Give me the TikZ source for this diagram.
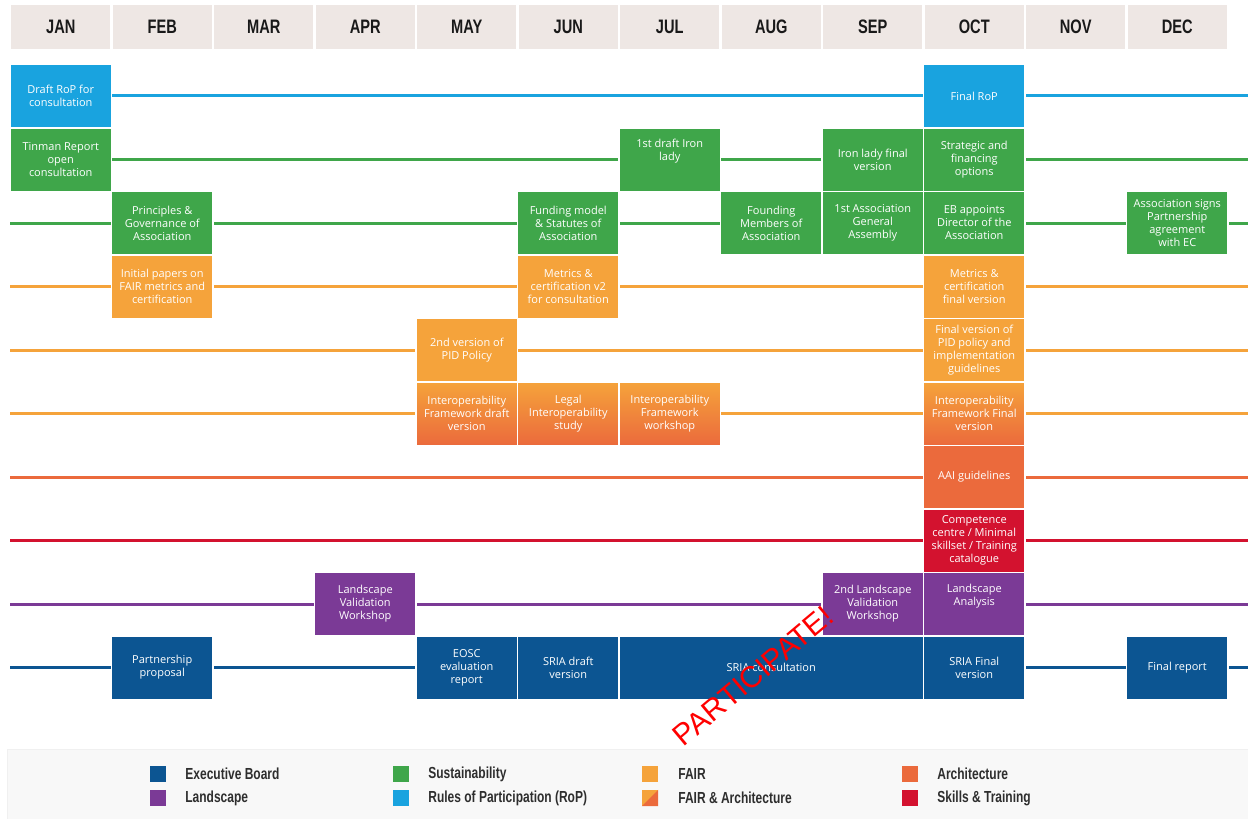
\documentclass[tikz,border=0pt]{standalone}
\usepackage{fontspec}
\setmainfont{Open Sans}
\newfontfamily\headfont{Liberation Sans}[FakeStretch=0.75]
\newfontfamily\markfont{Liberation Sans}
\usepackage{tikz}
\usetikzlibrary{positioning}
\definecolor{RoPBlue}{HTML}{19A3DF}
\definecolor{SustGreen}{HTML}{3FA64A}
\definecolor{FairOrange}{HTML}{F5A33B}
\definecolor{ArchOrange}{HTML}{EB6A3C}
\definecolor{SkillRed}{HTML}{D3122F}
\definecolor{LandPurple}{HTML}{7B3A96}
\definecolor{EBBlue}{HTML}{0C5592}
\definecolor{HeadGrey}{HTML}{EEE7E4}
\definecolor{LegendGrey}{HTML}{F8F8F8}
\definecolor{InkGrey}{HTML}{2E2E2E}
\tikzset{
  task/.style={draw=white, line width=1.5pt, minimum width=101.5pt, minimum height=63.5pt,
    inner sep=1pt, align=center, text=white, font=\fontsize{11}{13}\selectfont},
  rowline/.style={line width=3pt},
  month/.style={fill=HeadGrey, minimum width=99pt, minimum height=44pt, inner sep=0pt,
    text=black!90, font=\headfont\bfseries\fontsize{19.5}{20}\selectfont},
  keybox/.style={minimum width=16pt, minimum height=16pt, inner sep=0pt},
  keytext/.style={text=InkGrey, inner sep=0pt, font=\headfont\bfseries\fontsize{16}{17}\selectfont}
}

\begin{document}
\begin{tikzpicture}[x=1pt, y=-1pt]
\useasboundingbox (0,0) rectangle (1248,819);

% month header
\foreach \m [count=\i from 0] in {JAN,FEB,MAR,APR,MAY,JUN,JUL,AUG,SEP,OCT,NOV,DEC}
  \node[month] (h\m) at ({60.75+101.5*\i},27) {\m};

% work-stream lines
\foreach \y/\col [count=\r] in {95/RoPBlue,159.5/SustGreen,223/SustGreen,286.5/FairOrange,350/FairOrange,
    413.5/FairOrange,477/ArchOrange,540.5/SkillRed,604/LandPurple,667.5/EBBlue}{
  \coordinate (lw\r) at (10,\y);
  \coordinate (le\r) at (1248,\y);
  \draw[rowline, draw=\col] (lw\r) -- (le\r);
}

% rules of participation
\node[task, fill=RoPBlue] (ropdraft) at (60.75,96) {Draft RoP for\\consultation};
\node[task, fill=RoPBlue] (ropfinal) at (974.25,96) {Final RoP};

% sustainability
\node[task, fill=SustGreen] (tinman) at (60.75,159.5) {Tinman Report\\open\\consultation};
\node[task, fill=SustGreen] (irondraft) at (669.75,159.5) {1st draft Iron\\lady\\[6pt]};
\node[task, fill=SustGreen] (ironfinal) at (872.75,159.5) {Iron lady final\\version};
\node[task, fill=SustGreen] (strategic) at (974.25,159.5) {Strategic and\\financing\\options};
\node[task, fill=SustGreen] (principles) at (162.25,223) {Principles \&\\Governance of\\Association};
\node[task, fill=SustGreen] (funding) at (568.25,223) {Funding model\\\& Statutes of\\Association};
\node[task, fill=SustGreen] (founding) at (771.25,223) {Founding\\Members of\\Association};
\node[task, fill=SustGreen] (assembly) at (872.75,223) {1st Association\\General\\Assembly};
\node[task, fill=SustGreen] (director) at (974.25,223) {EB appoints\\Director of the\\Association};
\node[task, fill=SustGreen] (signs) at (1177.25,223) {Association signs\\Partnership\\agreement\\with EC};

% FAIR
\node[task, fill=FairOrange] (initial) at (162.25,286.5) {Initial papers on\\FAIR metrics and\\certification};
\node[task, fill=FairOrange] (metricsv2) at (568.25,286.5) {Metrics \&\\certification v2\\for consultation};
\node[task, fill=FairOrange] (metricsfin) at (974.25,286.5) {Metrics \&\\certification\\final version};
\node[task, fill=FairOrange] (pidtwo) at (466.75,350) {2nd version of\\PID Policy};
\node[task, fill=FairOrange] (pidfinal) at (974.25,350) {Final version of\\PID policy and\\implementation\\guidelines};

% FAIR & architecture
\node[task, top color=FairOrange, bottom color=ArchOrange] (iopdraft) at (466.75,413.5) {Interoperability\\Framework draft\\version};
\node[task, top color=FairOrange, bottom color=ArchOrange] (legal) at (568.25,413.5) {Legal\\Interoperability\\study};
\node[task, top color=FairOrange, bottom color=ArchOrange] (iopwork) at (669.75,413.5) {Interoperability\\Framework\\workshop};
\node[task, top color=FairOrange, bottom color=ArchOrange] (iopfinal) at (974.25,413.5) {Interoperability\\Framework Final\\version};

% architecture, skills
\node[task, fill=ArchOrange] (aai) at (974.25,477) {AAI guidelines};
\node[task, fill=SkillRed] (competence) at (974.25,540.5) {Competence\\centre / Minimal\\skillset / Training\\catalogue};

% landscape
\node[task, fill=LandPurple] (landval) at (365.25,604) {Landscape\\Validation\\Workshop};
\node[task, fill=LandPurple] (landval2) at (872.75,604) {2nd Landscape\\Validation\\Workshop};
\node[task, fill=LandPurple] (landana) at (974.25,604) {Landscape\\Analysis\\[6pt]};

% executive board
\node[task, fill=EBBlue] (partner) at (162.25,667.5) {Partnership\\proposal};
\node[task, fill=EBBlue] (evalrep) at (466.75,667.5) {EOSC\\evaluation\\report};
\node[task, fill=EBBlue] (sriadraft) at (568.25,667.5) {SRIA draft\\version};
\node[task, fill=EBBlue, minimum width=304.5pt] (sriacons) at (771.25,667.5) {SRIA consultation};
\node[task, fill=EBBlue] (sriafinal) at (974.25,667.5) {SRIA Final\\version};
\node[task, fill=EBBlue] (finalrep) at (1177.25,667.5) {Final report};

% legend
\node[fill=LegendGrey, draw=black!6, minimum width=1242pt, minimum height=71pt, inner sep=0pt] (legend) at (628,784.5) {};
\node[keybox, fill=EBBlue] (kEB) at (158,774) {};
\node[keybox, fill=LandPurple] (kLand) at (158,798) {};
\node[keybox, fill=SustGreen] (kSust) at (401,774) {};
\node[keybox, fill=RoPBlue] (kRoP) at (401,798) {};
\node[keybox, fill=FairOrange] (kFair) at (650,774) {};
\node[keybox, fill=FairOrange] (kFairArch) at (650,798) {};
\fill[ArchOrange] (kFairArch.north east) -- (kFairArch.south east) -- (kFairArch.south west) -- cycle;
\node[keybox, fill=ArchOrange] (kArch) at (910,774) {};
\node[keybox, fill=SkillRed] (kSkill) at (910,798) {};
\node[keytext, right=19pt of kEB] {Executive Board};
\node[keytext, right=19pt of kLand] {Landscape};
\node[keytext, right=19pt of kSust] {Sustainability};
\node[keytext, right=19pt of kRoP] {Rules of Participation (RoP)};
\node[keytext, right=20pt of kFair] {FAIR};
\node[keytext, right=20pt of kFairArch] {FAIR \& Architecture};
\node[keytext, right=19pt of kArch] {Architecture};
\node[keytext, right=19pt of kSkill] {Skills \& Training};

% stamp
\node[text=red, rotate=40, inner sep=0pt, font=\markfont\fontsize{30}{30}\selectfont] (stamp) at (753,676) {PARTICIPATE!};
\end{tikzpicture}
\end{document}
